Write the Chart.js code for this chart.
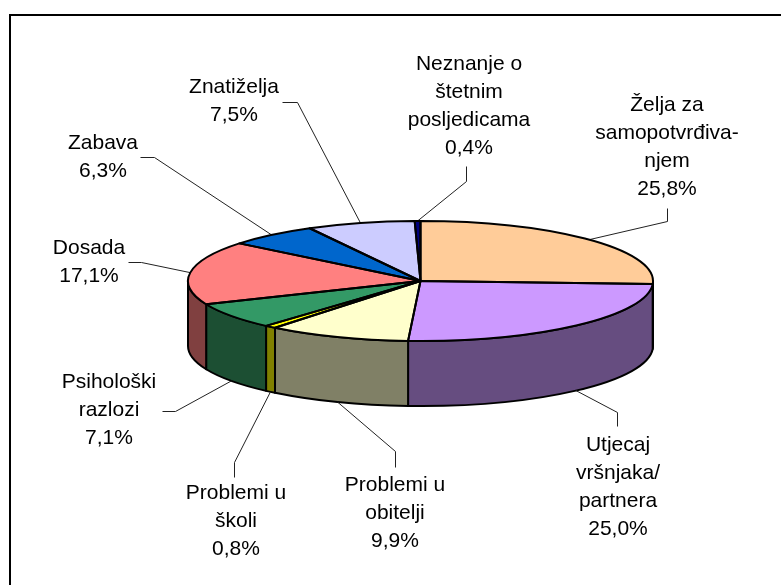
<!DOCTYPE html>
<html>
<head>
<meta charset="utf-8">
<style>html,body{margin:0;padding:0;background:#fff}canvas{display:block}#w{position:relative;width:781px;height:585px}</style>
<script src="https://cdn.jsdelivr.net/npm/chart.js@4"></script>
</head>
<body>
<div id="w"><canvas id="c" width="781" height="585"></canvas></div>
<script>
const categories = ["Želja za samopotvrđivanjem","Utjecaj vršnjaka/partnera","Problemi u obitelji","Problemi u školi","Psihološki razlozi","Dosada","Zabava","Znatiželja","Neznanje o štetnim posljedicama"];
const labelLines = [
  ["Želja za","samopotvrđiva-","njem"],
  ["Utjecaj","vršnjaka/","partnera"],
  ["Problemi u","obitelji"],
  ["Problemi u","školi"],
  ["Psihološki","razlozi"],
  ["Dosada"],
  ["Zabava"],
  ["Znatiželja"],
  ["Neznanje o","štetnim","posljedicama"]
];
const values = [25.8,25.0,9.9,0.8,7.1,17.1,6.3,7.5,0.4];
const topColors = ["#FFCC99","#CC99FF","#FFFFCC","#FFFF00","#339966","#FF8080","#0066CC","#CCCCFF","#000080"];
const sideColors = ["#806650","#664D80","#808066","#808000","#1C4F33","#804040","#003366","#666680","#000040"];

// layout of the annotation text and leader elbows (page pixels)
const labelCenterX = [667,618,395,236,109,89,103,234,469];
const labelTopLineY = [105,445,485,493,382,248,143,87,64];
const leaderElbows = [
  [[667,221],[667,208]],
  [[617,412],[617,426]],
  [[395,451],[395,467]],
  [[234,462],[234,477]],
  [[175,411],[162,411]],
  [[141,262],[128,262]],
  [[154,157],[140,157]],
  [[297,102],[282,102]],
  [[466,181],[466,166]]
];
const CX = 420.5, CY = 281, RX = 232.5, RY = 60, DEPTH = 65;
const squash = RY / RX;
const TAU = Math.PI * 2;

const pie3d = {
  id: 'pie3d',
  beforeDraw(chart) {
    const ctx = chart.ctx;
    ctx.save();
    ctx.fillStyle = '#fff';
    ctx.fillRect(0, 0, chart.width, chart.height);
    ctx.strokeStyle = '#000';
    ctx.lineWidth = 2;
    ctx.beginPath();
    ctx.moveTo(10, chart.height);
    ctx.lineTo(10, 15);
    ctx.lineTo(chart.width, 15);
    ctx.stroke();
    ctx.restore();
  },
  beforeDatasetsDraw(chart) {
    const ctx = chart.ctx;
    const arcs = chart.getDatasetMeta(0).data;
    const a0 = arcs[0];
    const x = a0.x, y = a0.y;
    // side walls: the part of every slice that faces the viewer
    ctx.save();
    ctx.lineJoin = 'round';
    arcs.forEach((arc, i) => {
      const s = Math.max(arc.startAngle, 0), e = Math.min(arc.endAngle, Math.PI);
      if (e <= s) return;
      const r = arc.outerRadius, ry = r * squash;
      ctx.beginPath();
      ctx.ellipse(x, y, r, ry, 0, s, e, false);
      ctx.ellipse(x, y + DEPTH, r, ry, 0, e, s, true);
      ctx.closePath();
      ctx.fillStyle = sideColors[i];
      ctx.fill();
      ctx.strokeStyle = '#000';
      ctx.lineWidth = 2;
      ctx.stroke();
    });
    ctx.restore();
    // leader lines
    ctx.save();
    ctx.strokeStyle = '#222';
    ctx.lineWidth = 1;
    arcs.forEach((arc, i) => {
      const mid = (arc.startAngle + arc.endAngle) / 2;
      const n = ((mid % TAU) + TAU) % TAU;
      const px = x + arc.outerRadius * Math.cos(mid);
      const py = y + arc.outerRadius * squash * Math.sin(mid) + (n < Math.PI ? DEPTH : 0);
      ctx.beginPath();
      ctx.moveTo(px, py);
      leaderElbows[i].forEach(p => ctx.lineTo(p[0] + .5, p[1] + .5));
      ctx.stroke();
    });
    ctx.restore();
    // the library's own arcs are drawn flattened
    ctx.save();
    ctx.translate(x, y);
    ctx.scale(1, squash);
    ctx.translate(-x, -y);
  },
  afterDatasetsDraw(chart) {
    const ctx = chart.ctx;
    ctx.restore();
    const arcs = chart.getDatasetMeta(0).data;
    // slice outlines at an even stroke width
    ctx.save();
    ctx.strokeStyle = '#000';
    ctx.lineWidth = 2;
    ctx.lineJoin = 'round';
    arcs.forEach(arc => {
      const r = arc.outerRadius, ry = r * squash;
      ctx.beginPath();
      ctx.moveTo(arc.x, arc.y);
      ctx.ellipse(arc.x, arc.y, r, ry, 0, arc.startAngle, arc.endAngle, false);
      ctx.closePath();
      ctx.stroke();
    });
    ctx.restore();
    // labels
    ctx.save();
    ctx.fillStyle = '#000';
    ctx.font = '21px "Liberation Sans", Arial, sans-serif';
    ctx.textAlign = 'center';
    ctx.textBaseline = 'middle';
    values.forEach((v, i) => {
      const lines = labelLines[i].concat(v.toFixed(1).replace('.', ',') + '%');
      lines.forEach((t, k) => ctx.fillText(t, labelCenterX[i], labelTopLineY[i] + k * 28));
    });
    ctx.restore();
  }
};

new Chart(document.getElementById('c'), {
  type: 'pie',
  plugins: [pie3d],
  data: {
    labels: categories,
    datasets: [{ data: values, backgroundColor: topColors, borderWidth: 0 }]
  },
  options: {
    responsive: false,
    animation: false,
    radius: RX,
    layout: { padding: { left: CX - RX, right: 781 - CX - RX, top: CY - RX, bottom: 585 - CY - RX } },
    plugins: { legend: { display: false }, tooltip: { enabled: false }, title: { display: false } }
  }
});
</script>
</body>
</html>
